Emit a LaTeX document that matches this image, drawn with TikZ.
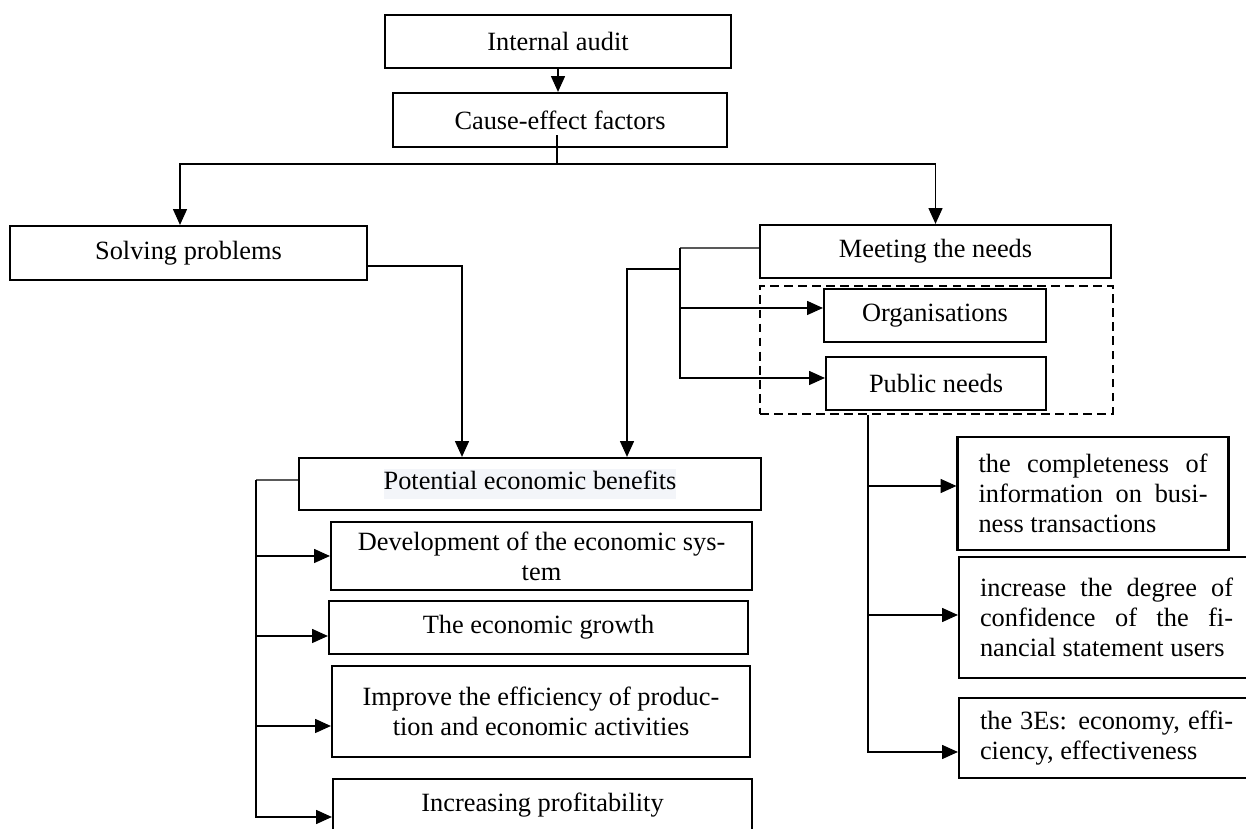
\documentclass[tikz,border=0pt]{standalone}
\usepackage{fontspec}
\setmainfont{Liberation Serif}
\usetikzlibrary{arrows.meta,calc}
\definecolor{hlbg}{HTML}{F3F5F9}
\setlength{\fboxsep}{0pt}

\begin{document}
\begin{tikzpicture}[line cap=butt,line join=miter,
  box/.style={draw,line width=1.25pt,inner sep=1pt,align=center,
    font=\fontsize{15}{17}\selectfont},
  wbox/.style={box,inner xsep=0.42cm,align=justify},
  grpbox/.style={draw,line width=1.3pt,dash pattern=on 5pt off 3pt,
    minimum width=7.06cm,minimum height=2.56cm},
  conn/.style={line width=0.6pt},
  arr/.style={conn,-{Triangle[length=9pt,width=8pt]}}]
  \useasboundingbox (0,0) rectangle (24.92,16.58);
  \clip (0,0) rectangle (24.92,16.58);

  \node[box,minimum width=6.92cm,minimum height=1.06cm] (audit) at (11.16,15.75) {Internal audit};
  \node[box,minimum width=6.68cm,minimum height=1.08cm] (cause) at (11.20,14.18) {Cause-effect factors};
  \node[box,minimum width=7.14cm,minimum height=1.08cm] (solve) at (3.77,11.52) {Solving problems};
  \node[box,minimum width=7.02cm,minimum height=1.06cm] (meet) at (18.71,11.55) {Meeting the needs};
  \node[grpbox] (grp) at (18.73,9.58) {};
  \node[box,minimum width=4.44cm,minimum height=1.06cm] (org) at (18.70,10.27) {Organisations};
  \node[box,minimum width=4.40cm,minimum height=1.06cm] (pub) at (18.72,8.91) {Public needs};

  \node[box,minimum width=9.24cm,minimum height=1.04cm] (pot) at (10.60,6.90)
    {\colorbox{hlbg}{\strut Potential economic benefits}};
  \node[box,minimum width=8.42cm,minimum height=1.36cm] (dev) at (10.83,5.46)
    {Development of the economic sys-\\tem};
  \node[box,minimum width=8.38cm,minimum height=1.06cm] (growth) at (10.77,4.03) {The economic growth};
  \node[box,minimum width=8.36cm,minimum height=1.82cm] (improve) at (10.82,2.35)
    {Improve the efficiency of produc-\\tion and economic activities};
  \node[box,minimum width=8.38cm,minimum height=1.06cm] (incr) at (10.85,0.47) {Increasing profitability};

  \node[wbox,text width=4.58cm,minimum height=2.26cm] (r1) at (21.86,6.71)
    {the completeness of \linebreak information on busi-\linebreak ness transactions};
  \node[wbox,text width=5.06cm,minimum height=2.42cm] (r2) at (22.13,4.23)
    {increase the degree of \linebreak confidence of the fi-\linebreak nancial statement users};
  \node[wbox,text width=5.06cm,minimum height=1.60cm] (r3) at (22.13,1.82)
    {the 3Es: economy, effi-\linebreak ciency, effectiveness};

  \draw[arr] (audit.south) -- (audit.south |- cause.north);
  \coordinate (split) at (11.14,13.30);
  \draw[conn] (split |- cause.south) ++(0,0.26) -- (split);
  \draw[arr] (split) -| ([xshift=-0.17cm]solve.north);
  \draw[arr] (split) -| (meet.north);

  \draw[arr] ([yshift=-0.26cm]solve.east) -| ([xshift=-1.36cm]pot.north);

  \coordinate (mj) at (13.60,11.62);
  \coordinate (mk) at (13.60,11.20);
  \draw[conn] ([yshift=0.07cm]meet.west) -- (mj);
  \draw[arr] (mj) |- ([yshift=0.15cm]org.west);
  \draw[arr] (mj) |- ([yshift=0.11cm]pub.west);
  \draw[arr] (mk) -| ([xshift=1.94cm]pot.north);

  \coordinate (rj) at ([xshift=-1.37cm]grp.south);
  \draw[arr] (rj) |- ([yshift=0.15cm]r1.west);
  \draw[arr] (rj) |- ([yshift=0.05cm]r2.west);
  \draw[arr] (rj) |- ([yshift=-0.28cm]r3.west);

  \coordinate (pk) at (5.12,6.98);
  \draw[conn] ([yshift=0.08cm]pot.west) -- (pk);
  \draw[arr] (pk) |- (dev.west);
  \draw[arr] (pk) |- ([yshift=-0.17cm]growth.west);
  \draw[arr] (pk) |- ([yshift=-0.29cm]improve.west);
  \draw[arr] (pk) |- ([yshift=-0.23cm]incr.west);
\end{tikzpicture}
\end{document}
